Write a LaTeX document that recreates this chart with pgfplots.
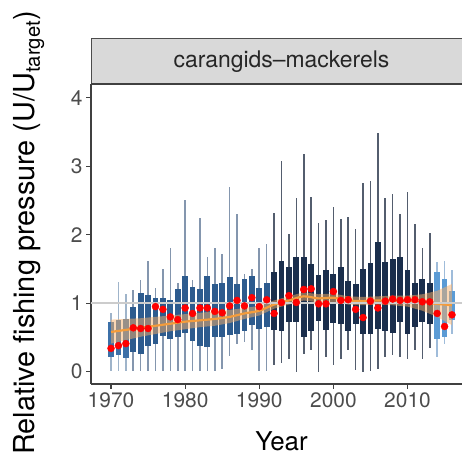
\documentclass[border=0pt]{standalone}
\usepackage{pgfplots}
\pgfplotsset{compat=1.18}
\usepgfplotslibrary{statistics}
\usepackage{fontspec}
\setmainfont{TeX Gyre Heros}

\definecolor{boxA}{HTML}{3C70A8}
\definecolor{boxB}{HTML}{2D5B8E}
\definecolor{boxC}{HTML}{1A2E4C}
\definecolor{boxD}{HTML}{5B9BD5}
\definecolor{wA}{HTML}{9FB4CA}
\definecolor{wB}{HTML}{8496AE}
\definecolor{wC}{HTML}{535D6E}
\definecolor{wD}{HTML}{9FBCDA}
\definecolor{trend}{HTML}{F39C3C}
\definecolor{ribbon}{HTML}{F7B069}
\definecolor{stripgray}{HTML}{D9D9D9}

\pgfplotsset{
  bxstyle/.style={solid, line width=1.6bp, draw=w#1,
    boxplot/every box/.style={fill=box#1, draw=none},
    boxplot/every whisker/.style={draw=w#1, line width=1.6bp},
    boxplot/every median/.style={draw=none},
    boxplot/box extend=0.78, boxplot/whisker extend=0},
  yr/.style={x filter/.expression={x-1970}},
}
% class, year, lower whisker, lower quartile, upper quartile, upper whisker
\newcommand\bx[6]{%
  \addplot[bxstyle=#1, boxplot prepared={draw direction=y, draw position=#2-1970,
    lower whisker=#3, lower quartile=#4, median=#4,
    upper quartile=#5, upper whisker=#6}] coordinates {};}

\begin{document}
\begin{tikzpicture}
\useasboundingbox (0bp,0bp) rectangle (462bp,463bp);
\begin{axis}[
  at={(91bp,79bp)}, anchor=south west,
  width=381bp, height=300bp, scale only axis,
  xmin=-2.7, xmax=48.7, ymin=-0.18, ymax=4.2,
  axis lines*=left,
  axis line style={draw=black!75, line width=1.2bp},
  tick style={draw=black!75, line width=1.2bp},
  tick align=outside, major tick length=5bp,
  xtick={0,10,20,30,40}, xticklabels={1970,1980,1990,2000,2010},
  ytick={0,1,2,3,4},
  /pgf/number format/assume math mode=true,
  ticklabel style={font=\fontsize{21}{21}\selectfont, text=black!70},
  clip=false,
]
\bx{A}{1970}{0.01}{0.22}{0.72}{0.85}
\bx{A}{1971}{0.01}{0.24}{0.76}{1.31}
\bx{A}{1972}{0.01}{0.20}{0.77}{1.14}
\bx{B}{1973}{0.01}{0.28}{0.94}{1.19}
\bx{B}{1974}{0.01}{0.26}{1.15}{1.34}
\bx{B}{1975}{0.01}{0.37}{1.12}{1.61}
\bx{B}{1976}{0.01}{0.40}{1.07}{1.22}
\bx{B}{1977}{0.01}{0.52}{1.07}{1.50}
\bx{B}{1978}{0.01}{0.48}{1.05}{1.81}
\bx{B}{1979}{0.01}{0.50}{1.21}{1.30}
\bx{B}{1980}{0.01}{0.57}{1.40}{2.50}
\bx{B}{1981}{0.01}{0.45}{1.24}{1.34}
\bx{B}{1982}{0.01}{0.38}{1.21}{2.25}
\bx{B}{1983}{0.01}{0.36}{1.40}{1.67}
\bx{B}{1984}{0.01}{0.50}{1.28}{1.81}
\bx{B}{1985}{0.04}{0.50}{1.30}{1.72}
\bx{B}{1986}{0.23}{0.53}{1.38}{2.70}
\bx{B}{1987}{0.41}{0.55}{1.28}{2.30}
\bx{B}{1988}{0.44}{0.60}{1.35}{1.43}
\bx{B}{1989}{0.32}{0.68}{1.40}{1.50}
\bx{B}{1990}{0.01}{0.63}{1.22}{1.81}
\bx{B}{1991}{0.01}{0.65}{1.30}{1.87}
\bx{C}{1992}{0.10}{0.61}{1.46}{2.31}
\bx{C}{1993}{0.12}{0.60}{1.61}{3.08}
\bx{C}{1994}{0.18}{0.72}{1.53}{2.01}
\bx{C}{1995}{0.00}{0.72}{1.68}{2.54}
\bx{C}{1996}{0.26}{0.50}{1.68}{3.18}
\bx{C}{1997}{0.31}{0.59}{1.57}{2.55}
\bx{C}{1998}{0.00}{0.74}{1.41}{2.17}
\bx{C}{1999}{0.21}{0.61}{1.48}{2.22}
\bx{C}{2000}{0.10}{0.71}{1.43}{2.40}
\bx{C}{2001}{0.19}{0.70}{1.53}{2.23}
\bx{C}{2002}{0.31}{0.60}{1.33}{2.26}
\bx{C}{2003}{0.03}{0.70}{1.28}{2.08}
\bx{C}{2004}{0.00}{0.55}{1.50}{2.76}
\bx{C}{2005}{0.01}{0.55}{1.58}{2.79}
\bx{C}{2006}{0.04}{0.62}{1.89}{3.48}
\bx{C}{2007}{0.21}{0.60}{1.60}{2.53}
\bx{C}{2008}{0.25}{0.57}{1.65}{2.60}
\bx{C}{2009}{0.21}{0.72}{1.68}{2.30}
\bx{C}{2010}{0.19}{0.55}{1.48}{2.62}
\bx{C}{2011}{0.31}{0.65}{1.30}{2.15}
\bx{C}{2012}{0.18}{0.72}{1.35}{1.81}
\bx{C}{2013}{0.34}{0.70}{1.30}{2.03}
\bx{D}{2014}{0.21}{0.48}{1.46}{1.60}
\bx{D}{2015}{0.40}{0.51}{1.35}{1.62}
\bx{D}{2016}{0.55}{0.76}{1.18}{1.48}
% trend ribbon
\addplot[yr, draw=none, fill=ribbon, fill opacity=0.5] coordinates {
 (1970,0.76) (1972,0.77) (1974,0.78) (1976,0.80) (1978,0.82) (1980,0.84)
 (1982,0.86) (1984,0.88) (1986,0.90) (1988,0.93) (1990,0.96) (1992,1.04)
 (1994,1.10) (1996,1.16) (1998,1.13) (2000,1.14) (2002,1.10) (2004,1.09)
 (2006,1.10) (2008,1.11) (2010,1.11) (2012,1.13) (2014,1.18) (2016,1.28)
 (2016,0.68) (2014,0.80) (2012,0.89) (2010,0.95) (2008,0.97) (2006,0.98)
 (2004,0.97) (2002,0.98) (2000,1.02) (1998,1.01) (1996,1.04) (1994,0.98)
 (1992,0.92) (1990,0.82) (1988,0.77) (1986,0.71) (1984,0.67) (1982,0.65)
 (1980,0.62) (1978,0.59) (1976,0.55) (1974,0.51) (1972,0.46) (1970,0.41)};
% trend line
\addplot[yr, trend, line width=2.2bp, smooth] coordinates {
 (1970,0.58) (1972,0.61) (1974,0.64) (1976,0.67) (1978,0.70) (1980,0.73)
 (1982,0.75) (1984,0.77) (1986,0.80) (1988,0.85) (1990,0.89) (1992,0.98)
 (1994,1.04) (1996,1.10) (1998,1.07) (2000,1.08) (2002,1.04) (2004,1.03)
 (2006,1.04) (2008,1.04) (2010,1.03) (2012,1.01) (2014,0.99) (2016,0.97)};
% reference line
\addplot[black!20, line width=2.2bp] coordinates {(-2.7,1) (48.7,1)};
% yearly points
\addplot[yr, only marks, mark=*, mark size=3.5bp, color=red] table {
year value
1970 0.34
1971 0.38
1972 0.41
1973 0.64
1974 0.63
1975 0.63
1976 0.95
1977 0.91
1978 0.80
1979 0.76
1980 0.93
1981 0.85
1982 0.93
1983 0.93
1984 0.88
1985 0.86
1986 0.96
1987 1.04
1988 0.96
1989 1.08
1990 0.95
1991 1.05
1992 0.85
1993 1.01
1994 1.11
1995 1.01
1996 1.20
1997 1.21
1998 0.99
1999 0.99
2000 1.17
2001 1.04
2002 1.05
2003 0.91
2004 0.79
2005 1.03
2006 0.93
2007 1.03
2008 1.06
2009 1.04
2010 1.05
2011 1.05
2012 1.02
2013 1.02
2014 0.85
2015 0.66
2016 0.83
};
\end{axis}
% facet strip
\draw[fill=stripgray, draw=black!70, line width=1bp] (91bp,379bp) rectangle (472bp,424bp);
\draw[black!75, line width=1.6bp] (91bp,379bp) -- (472bp,379bp);
\node[font=\fontsize{23}{23}\selectfont, text=black!85] at (281.5bp,401.5bp) {carangids–mackerels};
% axis titles
\node[font=\fontsize{29}{29}\selectfont, rotate=90] at (29bp,230bp) {Relative fishing pressure (U/U\textsubscript{target})};
\node[font=\fontsize{26}{26}\selectfont] at (281.5bp,22bp) {Year};
\end{tikzpicture}
\end{document}
